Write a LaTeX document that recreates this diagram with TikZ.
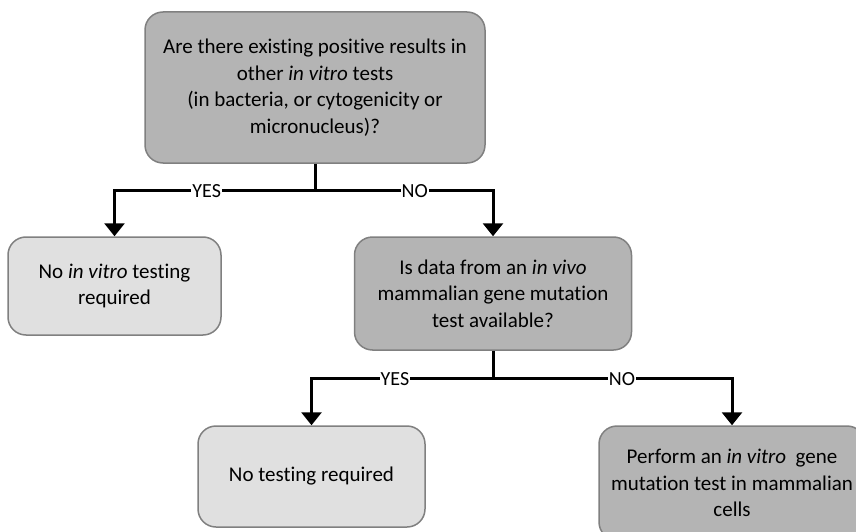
\documentclass[tikz,border=0pt]{standalone}
\usepackage{fontspec}
\setmainfont{Carlito}[Ligatures=NoCommon]
\usetikzlibrary{arrows.meta}
\definecolor{darkbox}{RGB}{180,180,180}
\definecolor{lightbox}{RGB}{224,224,224}
\definecolor{edge}{RGB}{128,128,128}
\tikzset{
  box/.style={draw=edge, line width=1.5pt, rounded corners=18pt, align=center,
    font=\fontsize{21}{26.5}\selectfont, inner sep=4pt},
  dbox/.style={box, fill=darkbox},
  lbox/.style={box, fill=lightbox},
  conn/.style={line width=3pt, -{Triangle[width=20pt,length=13pt]}},
  stem/.style={line width=3pt},
  lab/.style={fill=white, inner sep=1pt, font=\fontsize{20}{22}\selectfont}
}
\begin{document}
\begin{tikzpicture}[x=1pt,y=-1pt]
\useasboundingbox (0,0) rectangle (856,532);
\clip (0,0) rectangle (856,532);
\node[dbox, minimum width=340pt, minimum height=151pt] (top) at (315,87.5)
  {Are there existing positive results in\\ other \textit{in vitro} tests\\ (in bacteria, or cytogenicity or\\ micronucleus)?};
\node[lbox, minimum width=213pt, minimum height=98pt] (left) at (114.5,286)
  {No \textit{in vitro} testing\\ required};
\node[dbox, minimum width=277pt, minimum height=113pt] (mid) at (493,293.5)
  {Is data from an \textit{in vivo}\\ mammalian gene mutation\\ test available?};
\node[lbox, minimum width=227pt, minimum height=101pt] (bl) at (311.5,476.5)
  {No testing required};
\node[dbox, minimum width=266pt, minimum height=114pt] (br) at (732,483)
  {Perform an \textit{in vitro}\ \ gene\\ mutation test in mammalian\\ cells};
\draw[stem] (top.south) -- ++(0,27) coordinate (j1);
\draw[conn] (j1) -| node[lab, pos=0.27] {YES} (left.north);
\draw[conn] (j1) -| node[lab, pos=0.28] {NO} (mid.north);
\draw[stem] (mid.south) -- ++(0,28) coordinate (j2);
\draw[conn] (j2) -| node[lab, pos=0.27] {YES} (bl.north);
\draw[conn] (j2) -| node[lab, pos=0.27] {NO} (br.north);
\end{tikzpicture}
\end{document}
